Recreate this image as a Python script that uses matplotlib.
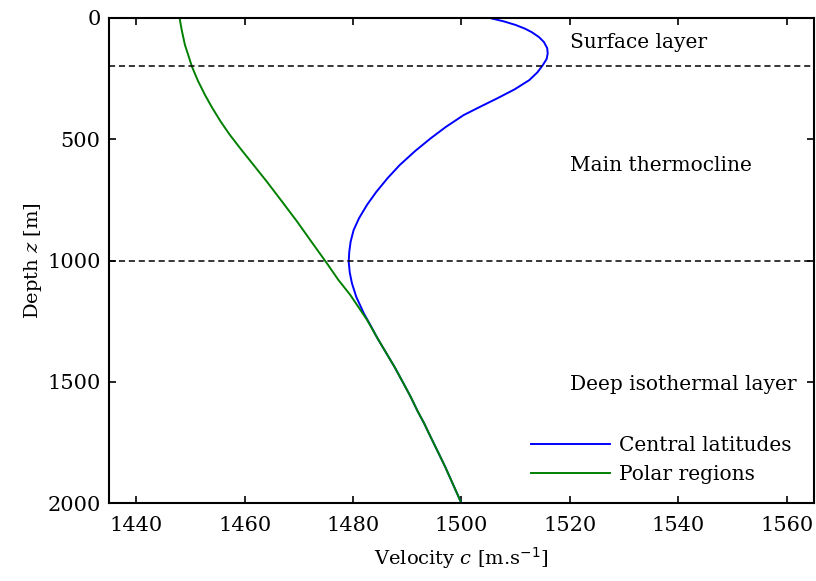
import matplotlib
matplotlib.use("Agg")
import matplotlib.pyplot as plt

# ------------------ sound speed profiles ------------------
depth_central = [0, 15, 30, 45, 60, 80, 100, 125, 147, 170, 195, 225, 257, 295,
                 332, 365, 401, 450, 497, 550, 607, 660, 717, 770, 826, 875, 923,
                 965, 1005, 1050, 1094, 1150, 1218, 1266, 1320, 1380, 1440, 1506,
                 1560, 1620, 1670, 1726, 1790, 1850, 1920, 2000]
speed_central = [1505.0, 1507.8, 1510.0, 1511.7, 1513.0, 1514.3, 1515.2, 1515.8,
                 1515.9, 1515.7, 1515.0, 1514.0, 1512.5, 1509.8, 1506.6, 1503.6,
                 1500.4, 1497.1, 1494.3, 1491.4, 1488.6, 1486.4, 1484.3, 1482.6,
                 1481.1, 1480.1, 1479.55, 1479.3, 1479.2, 1479.4, 1479.8, 1480.6,
                 1482.0, 1483.2, 1484.5, 1486.1, 1487.7, 1489.3, 1490.6, 1491.9,
                 1493.1, 1494.3, 1495.7, 1497.0, 1498.4, 1500.0]

depth_polar = [0, 50, 112, 160, 202, 260, 318, 370, 428, 480, 538, 605, 675,
               760, 840, 925, 1012, 1080, 1142, 1195, 1245, 1320, 1380, 1440,
               1506, 1560, 1620, 1670, 1726, 1790, 1850, 1920, 2000]
speed_polar = [1448.0, 1448.4, 1449.0, 1449.7, 1450.3, 1451.4, 1452.7, 1454.0,
               1455.6, 1457.2, 1459.2, 1461.6, 1464.1, 1467.0, 1469.7, 1472.4,
               1475.2, 1477.3, 1479.5, 1481.1, 1482.6, 1484.5, 1486.1, 1487.7,
               1489.3, 1490.6, 1491.9, 1493.1, 1494.3, 1495.7, 1497.0, 1498.4,
               1500.0]

layer_bounds = [200, 1000]
layer_names = ["Surface layer", "Main thermocline", "Deep isothermal layer"]
layer_text_depth = [104, 607, 1509]

x_ticks = [1440, 1460, 1480, 1500, 1520, 1540, 1560]
y_ticks = [0, 500, 1000, 1500, 2000]
# ----------------------------------------------------------

plt.rcParams["font.family"] = ["DejaVu Serif"]
plt.rcParams["mathtext.fontset"] = "dejavuserif"
FS_TICK = 15
FS_TEXT = 14.5

fig = plt.figure(figsize=(8.16, 5.81), dpi=100)
ax = fig.add_axes([0.1336, 0.1337, 0.8639, 0.8358])

ax.plot(speed_central, depth_central, color="#0000ff", lw=1.4, label="Central latitudes")
ax.plot(speed_polar, depth_polar, color="#008000", lw=1.4, label="Polar regions")

for b in layer_bounds:
    ax.axhline(b, color="black", lw=1.1, ls=(0, (4, 2.5)))

for name, d in zip(layer_names, layer_text_depth):
    ax.text(1520, d, name, fontsize=FS_TEXT, ha="left", va="center")

ax.set_xlim(1435, 1565)
ax.set_ylim(2000, 0)
ax.set_xticks(x_ticks)
ax.set_yticks(y_ticks)
ax.tick_params(direction="in", length=5, width=1.2, labelsize=FS_TICK,
               top=True, right=True)
ax.tick_params(axis="x", pad=9)
ax.tick_params(axis="y", pad=6)
for s in ax.spines.values():
    s.set_linewidth(1.5)

ax.set_xlabel(r"Velocity $c$ [m.s$^{\mathsf{-1}}$]", fontsize=14, labelpad=8)
ax.set_ylabel(r"Depth $z$ [m]", fontsize=14, labelpad=2)

ax.legend(loc="lower right", frameon=False, fontsize=FS_TEXT,
          handlelength=3.9, handletextpad=0.45, labelspacing=0.5,
          borderpad=0, borderaxespad=0,
          bbox_to_anchor=(0.968, 0.04))

fig.savefig("out.png", dpi=100)
